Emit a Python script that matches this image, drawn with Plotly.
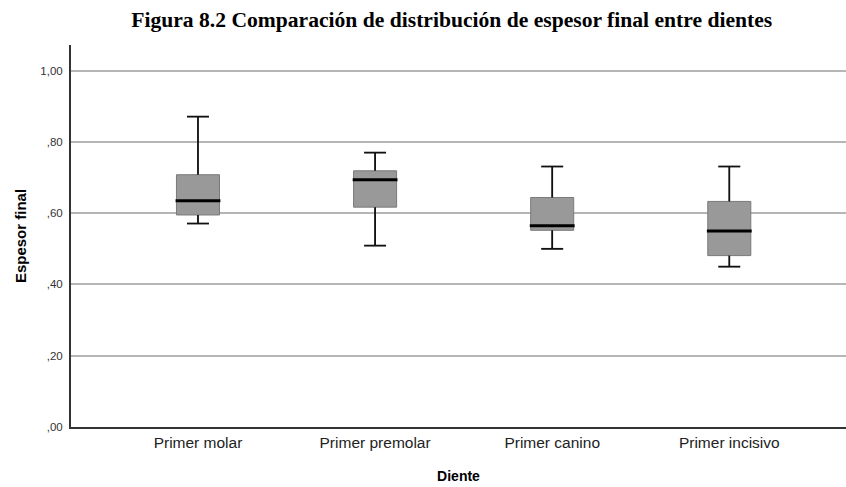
import plotly.graph_objects as go

# Box-plot summary of final thickness per tooth
dientes = ["Primer molar", "Primer premolar", "Primer canino", "Primer incisivo"]
minimo = [0.571, 0.509, 0.500, 0.450]
q1 = [0.595, 0.617, 0.552, 0.481]
mediana = [0.635, 0.694, 0.565, 0.550]
q3 = [0.708, 0.719, 0.644, 0.633]
maximo = [0.871, 0.770, 0.731, 0.731]

y_ticks = [0.0, 0.2, 0.4, 0.6, 0.8, 1.0]
y_tick_text = [",00", ",20", ",40", ",60", ",80", "1,00"]

pos = list(range(len(dientes)))
box_w = 0.243
cap_half = 0.062
med_half = box_w / 2 + 0.005

fig = go.Figure()

# box bodies
fig.add_trace(go.Box(
    x=pos, q1=q1, median=mediana, q3=q3,
    lowerfence=minimo, upperfence=maximo,
    width=box_w, whiskerwidth=0.5,
    fillcolor="#999999",
    line=dict(color="#7a7a7a", width=1),
    boxpoints=False, hoverinfo="skip", showlegend=False,
))

# whiskers and caps
wx, wy = [], []
for i, p in enumerate(pos):
    wx += [p, p, None, p, p, None]
    wy += [q3[i], maximo[i], None, q1[i], minimo[i], None]
    wx += [p - cap_half, p + cap_half, None, p - cap_half, p + cap_half, None]
    wy += [maximo[i], maximo[i], None, minimo[i], minimo[i], None]
fig.add_trace(go.Scatter(
    x=wx, y=wy, mode="lines",
    line=dict(color="#111111", width=1.8),
    hoverinfo="skip", showlegend=False,
))

# medians
mx, my = [], []
for i, p in enumerate(pos):
    mx += [p - med_half, p + med_half, None]
    my += [mediana[i], mediana[i], None]
fig.add_trace(go.Scatter(
    x=mx, y=my, mode="lines",
    line=dict(color="#000000", width=3),
    hoverinfo="skip", showlegend=False,
))

fig.update_layout(
    width=846, height=487,
    margin=dict(l=71, r=0, t=45, b=60),
    paper_bgcolor="white", plot_bgcolor="white",
    title=dict(
        text="<b>Figura 8.2 Comparación de distribución de espesor final entre dientes</b>",
        font=dict(family="Liberation Serif", size=21.6, color="#000000"),
        x=0.534, xanchor="center", xref="container",
        y=0.96, yanchor="middle", yref="container",
    ),
    xaxis=dict(
        range=[-0.717, 3.659],
        tickvals=pos, ticktext=dientes,
        tickfont=dict(family="Liberation Sans", size=15.5, color="#222222"),
        showgrid=False, zeroline=False,
        showline=True, linecolor="#333333", linewidth=2,
        ticks="",
        title=dict(text="<b>Diente</b>",
                   font=dict(family="Liberation Sans", size=14, color="#000000"),
                   standoff=22),
    ),
    yaxis=dict(
        range=[0, 1.072],
        tickvals=y_ticks, ticktext=y_tick_text,
        tickfont=dict(family="Liberation Sans", size=11.5, color="#333333"),
        showgrid=True, gridcolor="#b5b5b5", gridwidth=1.5,
        zeroline=False,
        showline=True, linecolor="#333333", linewidth=2,
        ticks="", ticklabelstandoff=4,
        title=dict(text="<b>Espesor final</b>",
                   font=dict(family="Liberation Sans", size=15, color="#000000"),
                   standoff=10),
    ),
)

fig.write_html("out.html", config={"displayModeBar": False})
